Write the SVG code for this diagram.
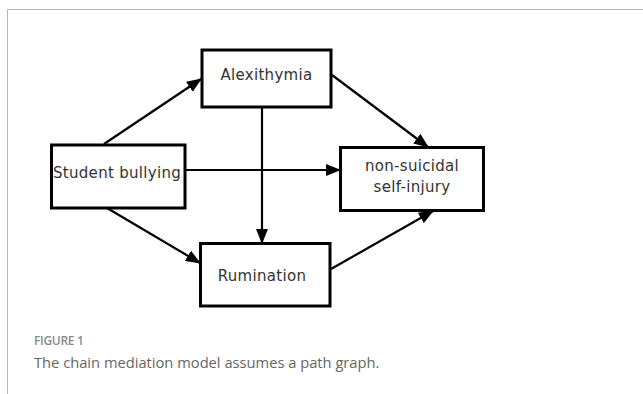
<svg xmlns="http://www.w3.org/2000/svg" width="643" height="394" viewBox="0 0 643 394">
<defs>
<marker id="ah" markerWidth="15" markerHeight="12" refX="14" refY="6" orient="auto" markerUnits="userSpaceOnUse" viewBox="0 0 15 12">
<path d="M0,0 L15,6 L0,12 z" fill="#000"/>
</marker>
<style>
.box{fill:#fff;stroke:#000;stroke-width:3}
.lbl{font-family:"DejaVu Sans",sans-serif;font-size:15px;fill:#333;text-anchor:middle;letter-spacing:0.3px}
.edge{stroke:#000;stroke-width:2.2;fill:none;marker-end:url(#ah)}
</style>
</defs>
<rect x="0" y="0" width="643" height="394" fill="#fff"/>
<path d="M7.5,394 V9.5 H643" fill="none" stroke="#b5b5b5" stroke-width="1"/>
<g id="connectors">
<line class="edge" x1="104" y1="144" x2="201" y2="79"/>
<line class="edge" x1="332" y1="75" x2="428" y2="147"/>
<line class="edge" x1="185" y1="170" x2="340" y2="170"/>
<line class="edge" x1="262" y1="108" x2="262" y2="243"/>
<line class="edge" x1="107" y1="208" x2="200" y2="263"/>
<line class="edge" x1="331" y1="269" x2="433" y2="211"/>
</g>
<g id="alexithymia">
<rect class="box" x="202" y="50" width="129" height="57"/>
<text class="lbl" x="266.5" y="80">Alexithymia</text>
</g>
<g id="student-bullying">
<rect class="box" x="51.5" y="145" width="133.5" height="63"/>
<text class="lbl" x="117" y="178">Student bullying</text>
</g>
<g id="nssi">
<rect class="box" x="340.5" y="147.5" width="143" height="63"/>
<text class="lbl" x="412" y="171">non-suicidal</text>
<text class="lbl" x="412" y="192">self-injury</text>
</g>
<g id="rumination">
<rect class="box" x="200.5" y="243.5" width="129.5" height="62.5"/>
<text class="lbl" x="262" y="281">Rumination</text>
</g>
<text x="34" y="345" font-family="'Open Sans',sans-serif" font-size="12" fill="#8a8a8a" font-weight="600" letter-spacing="-0.3">FIGURE 1</text>
<text x="34" y="368" font-family="'Open Sans',sans-serif" font-size="14.7" fill="#666">The chain mediation model assumes a path graph.</text>
</svg>
